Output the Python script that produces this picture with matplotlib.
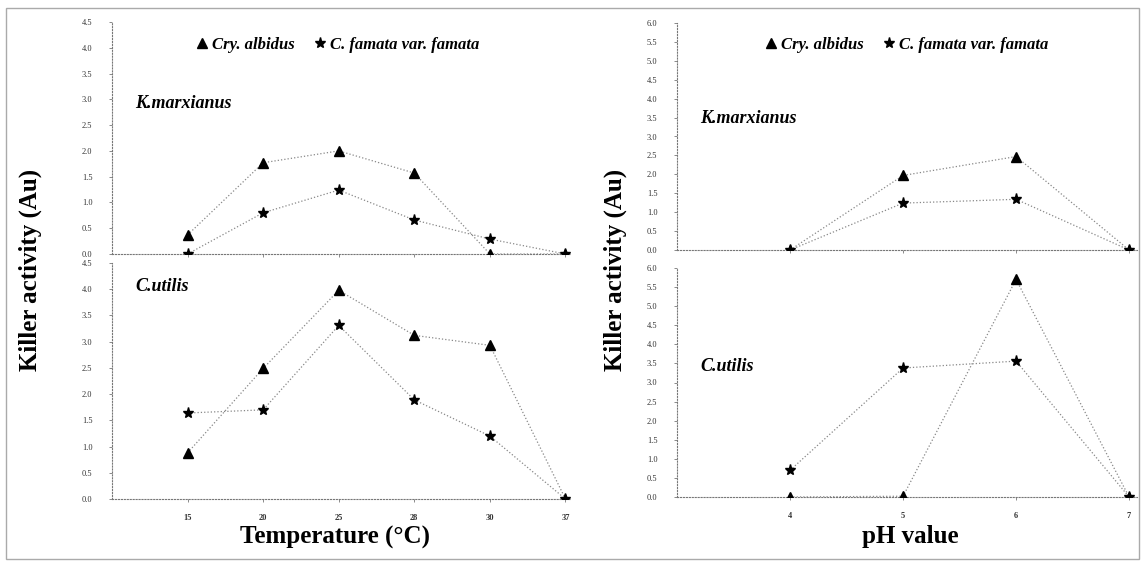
import matplotlib.pyplot as plt
from matplotlib.patches import Rectangle
from matplotlib.lines import Line2D

plt.rcParams['font.family'] = ['Liberation Serif', 'DejaVu Serif']

# temperature panel
temp_labels = ['15', '20', '25', '28', '30', '37']
km_temp_albidus = [0.37, 1.77, 2.0, 1.57, 0.0, 0.0]
km_temp_famata = [0.0, 0.8, 1.24, 0.66, 0.29, 0.0]
cu_temp_albidus = [0.88, 2.49, 3.98, 3.12, 2.93, 0.0]
cu_temp_famata = [1.64, 1.70, 3.31, 1.89, 1.20, 0.0]
temp_yticks = [0.0, 0.5, 1.0, 1.5, 2.0, 2.5, 3.0, 3.5, 4.0, 4.5]

# pH panel
ph_labels = ['4', '5', '6', '7']
km_ph_albidus = [0.0, 1.97, 2.47, 0.0]
km_ph_famata = [0.0, 1.24, 1.34, 0.0]
cu_ph_albidus = [0.0, 0.02, 5.7, 0.0]
cu_ph_famata = [0.7, 3.38, 3.56, 0.0]
ph_yticks = [0.0, 0.5, 1.0, 1.5, 2.0, 2.5, 3.0, 3.5, 4.0, 4.5, 5.0, 5.5, 6.0]

W, H = 1141, 561
fig = plt.figure(figsize=(W / 100, H / 100), dpi=100)


def box(x0, x1, ytop, ybot):
    return [x0 / W, 1 - ybot / H, (x1 - x0) / W, (ybot - ytop) / H]


def panel(rect, labels, a, f, yticks, ymax, xmax, name, namey, show_x):
    ax = fig.add_axes(rect)
    x = list(range(1, len(labels) + 1))
    ax.plot(x, a, ls=':', color='#888888', lw=0.9, marker='^', ms=7,
            mfc='black', mec='black', zorder=3)
    ax.plot(x, f, ls=':', color='#888888', lw=0.9, marker='*', ms=8,
            mfc='black', mec='black', zorder=3)
    ax.set_xlim(0, xmax)
    ax.set_ylim(0, ymax)
    ax.set_yticks(yticks)
    ax.set_yticklabels(['%.1f' % v for v in yticks], fontsize=6, color='#333333')
    ax.set_xticks(x)
    if show_x:
        ax.set_xticklabels(labels, fontsize=6, color='#333333', fontweight='bold')
    else:
        ax.set_xticklabels([])
    for s in ['top', 'right']:
        ax.spines[s].set_visible(False)
    for s in ['left', 'bottom']:
        ax.spines[s].set_linestyle(':')
        ax.spines[s].set_color('#777777')
        ax.spines[s].set_linewidth(0.8)
    ax.tick_params(axis='y', length=2, width=0.6, color='#777777', pad=12)
    ax.tick_params(axis='x', length=2, width=0.6, color='#777777', pad=9)
    ax.patch.set_alpha(0)
    ax.text(0.05, namey, name, transform=ax.transAxes, fontsize=13,
            fontweight='bold', style='italic')
    return ax


panel(box(112, 570, 22, 254), temp_labels, km_temp_albidus, km_temp_famata,
      temp_yticks, 4.5, 6.06, 'K.marxianus', 0.63, False)
panel(box(112, 570, 263, 499), temp_labels, cu_temp_albidus, cu_temp_famata,
      temp_yticks, 4.5, 6.06, 'C.utilis', 0.88, True)
panel(box(677, 1137, 23, 250), ph_labels, km_ph_albidus, km_ph_famata,
      ph_yticks, 6.0, 4.07, 'K.marxianus', 0.56, False)
panel(box(677, 1137, 268, 497), ph_labels, cu_ph_albidus, cu_ph_famata,
      ph_yticks, 6.0, 4.07, 'C.utilis', 0.55, True)

handles = [Line2D([], [], ls='none', marker='^', ms=7, color='black'),
           Line2D([], [], ls='none', marker='*', ms=8, color='black')]
names = ['Cry. albidus', 'C. famata var. famata']
for cx in [338 / W, 907 / W]:
    fig.legend(handles, names, loc='center', bbox_to_anchor=(cx, 1 - 45 / H),
               ncol=2, frameon=False, handlelength=0.6, handletextpad=0.3,
               columnspacing=1.2,
               prop={'size': 12, 'weight': 'bold', 'style': 'italic'})

fig.text(30 / W, 1 - 270 / H, 'Killer activity (Au)', rotation=90,
         ha='center', va='center', fontsize=18, fontweight='bold')
fig.text(615 / W, 1 - 270 / H, 'Killer activity (Au)', rotation=90,
         ha='center', va='center', fontsize=18, fontweight='bold')
fig.text(335 / W, 1 - 537 / H, 'Temperature (°C)', ha='center', va='center',
         fontsize=18, fontweight='bold')
fig.text(910 / W, 1 - 537 / H, 'pH value', ha='center', va='center',
         fontsize=18, fontweight='bold')

fig.patches.append(Rectangle((6 / W, 1 - 559 / H), 1133 / W, 551 / H,
                             transform=fig.transFigure, fill=False,
                             edgecolor='#aaaaaa', lw=1))

fig.savefig('out.png', dpi=100)
